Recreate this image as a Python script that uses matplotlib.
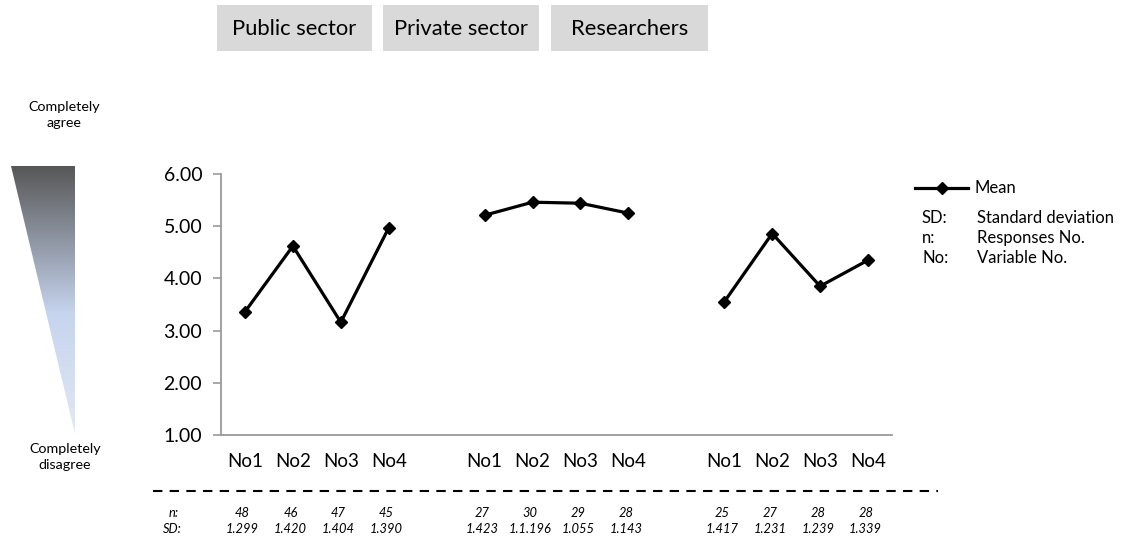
import numpy as np
import matplotlib
matplotlib.use("Agg")
import matplotlib.pyplot as plt
from matplotlib.colors import LinearSegmentedColormap
from matplotlib.patches import Polygon, Rectangle
from matplotlib.lines import Line2D

plt.rcParams['font.family'] = ['Lato', 'DejaVu Sans']

# ---------------- data ----------------
groups = ["Public sector", "Private sector", "Researchers"]
variables = ["No1", "No2", "No3", "No4"]
public_mean = [3.36, 4.62, 3.16, 4.97]
private_mean = [5.21, 5.46, 5.44, 5.25]
research_mean = [3.55, 4.86, 3.85, 4.35]
public_n = ["48", "46", "47", "45"]
private_n = ["27", "30", "29", "28"]
research_n = ["25", "27", "28", "28"]
public_sd = ["1.299", "1.420", "1.404", "1.390"]
private_sd = ["1.423", "1.1.196", "1.055", "1.143"]
research_sd = ["1.417", "1.231", "1.239", "1.339"]
y_ticks = [1, 2, 3, 4, 5, 6]
legend_notes = [("SD:", "Standard deviation"), ("n:", "Responses No."), ("No:", "Variable No.")]

W, H = 1125, 540
fig = plt.figure(figsize=(W / 100, H / 100), dpi=100)

# decoration layer in pixel coordinates
deco = fig.add_axes([0, 0, 1, 1], zorder=0)
deco.set_xlim(0, W)
deco.set_ylim(H, 0)
deco.axis("off")

# main axes
ax = fig.add_axes([221 / W, 1 - 435 / H, (892 - 221) / W, (435 - 174) / H], zorder=1)
ax.patch.set_alpha(0)

all_means = [public_mean, private_mean, research_mean]
gap = 1
xpos_groups = []
for gi, means in enumerate(all_means):
    xs = np.arange(len(means)) + gi * (len(means) + gap)
    xpos_groups.append(xs)
    ax.plot(xs, means, color="black", lw=2.3, marker="D", markersize=6.3,
            markerfacecolor="black", markeredgecolor="black", solid_joinstyle="miter")

ax.set_xlim(-0.5, xpos_groups[-1][-1] + 0.5)
ax.set_ylim(1, 6)
ax.set_yticks(y_ticks)
ax.set_yticklabels([f"{v:.2f}" for v in y_ticks], fontsize=14)
all_x = np.concatenate(xpos_groups)
ax.set_xticks(all_x)
ax.set_xticklabels(variables * len(groups), fontsize=13.5)
ax.tick_params(axis="x", length=0, pad=13)
ax.tick_params(axis="y", length=5.5, width=1.2, color="#9a9a9a", direction="out", pad=8)
for s in ["top", "right"]:
    ax.spines[s].set_visible(False)
for s in ["left", "bottom"]:
    ax.spines[s].set_color("#9a9a9a")
    ax.spines[s].set_linewidth(1.3)

# header boxes
boxes = [(217, 372), (383, 539), (551, 708)]
for (x0, x1), g in zip(boxes, groups):
    deco.add_patch(Rectangle((x0, 5), x1 - x0, 46, facecolor="#d9d9d9", edgecolor="none"))
    deco.text((x0 + x1) / 2, 29, g, ha="center", va="center", fontsize=15.8, color="black")

# gradient triangle
cmap = LinearSegmentedColormap.from_list("g", [(0, "#575757"), (0.55, "#c6d4ee"), (1, "#e2e8f4")])
grad = np.linspace(0, 1, 256).reshape(-1, 1)
im = deco.imshow(grad, cmap=cmap, extent=(11, 75, 434, 166), aspect="auto", zorder=1)
tri = Polygon([(11, 166), (75, 166), (75, 434)], closed=True, facecolor="none", edgecolor="none")
deco.add_patch(tri)
im.set_clip_path(tri)
deco.set_xlim(0, W)
deco.set_ylim(H, 0)
deco.text(64, 115, "Completely\nagree", ha="center", va="center", fontsize=10.3, linespacing=1.4)
deco.text(65, 457, "Completely\ndisagree", ha="center", va="center", fontsize=10.3, linespacing=1.4)

# dashed separator
deco.plot([153, 938], [491, 491], color="black", lw=1.5, ls=(0, (4.5, 3.5)))

# n / SD rows
trans = ax.get_xaxis_transform()
row_n = (435 - 513) / (435 - 174)
row_sd = (435 - 529) / (435 - 174)
ax.text(-1.6, row_n, "n:", transform=trans, ha="left", va="center", fontsize=9.3, style="italic", clip_on=False)
ax.text(-1.72, row_sd, "SD:", transform=trans, ha="left", va="center", fontsize=9.3, style="italic", clip_on=False)
for xs, ns, sds in zip(xpos_groups, [public_n, private_n, research_n], [public_sd, private_sd, research_sd]):
    for x, n, sd in zip(xs, ns, sds):
        ax.text(x - 0.05, row_n, n, transform=trans, ha="center", va="center", fontsize=9.3, style="italic", clip_on=False)
        ax.text(x - 0.05, row_sd, sd, transform=trans, ha="center", va="center", fontsize=9.3, style="italic", clip_on=False)

# legend
deco.add_line(Line2D([915, 968], [188, 188], color="black", lw=2.3))
deco.add_line(Line2D([942], [188], marker="D", markersize=6.3, color="black"))
deco.text(974, 188, "Mean", ha="left", va="center", fontsize=12)
for i, (k, v) in enumerate(legend_notes):
    y = 218 + i * 20
    deco.text(922, y, k, ha="left", va="center", fontsize=12)
    deco.text(977, y, v, ha="left", va="center", fontsize=12)

fig.savefig("out.png", dpi=100)
